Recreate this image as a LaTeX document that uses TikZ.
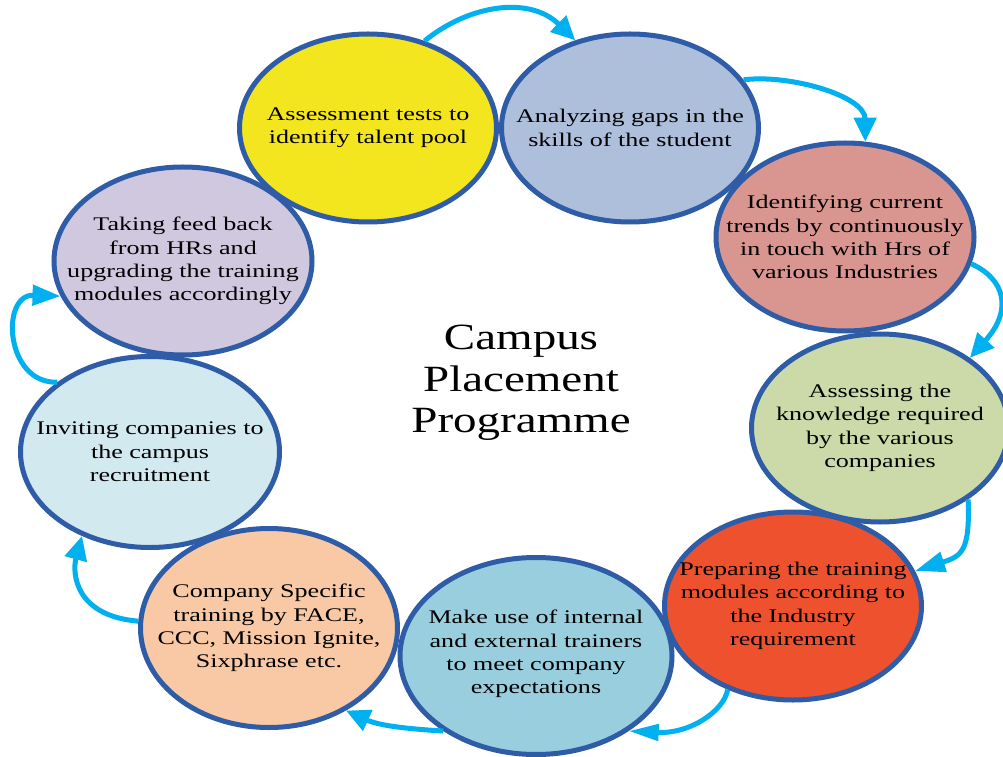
\documentclass[tikz,border=0pt]{standalone}
\usepackage{fontspec}
\setmainfont{Liberation Serif}[FakeStretch=1.35]
\newfontfamily\titlefont{Liberation Serif}[FakeStretch=1.27]
\usetikzlibrary{shapes.geometric,arrows.meta}
\definecolor{rimc}{HTML}{2E5CA6}
\definecolor{arrc}{HTML}{00B0EF}
\definecolor{cA}{HTML}{F3E61F}
\definecolor{cB}{HTML}{ADBFDA}
\definecolor{cC}{HTML}{D9958F}
\definecolor{cD}{HTML}{CCDAA9}
\definecolor{cE}{HTML}{EE512D}
\definecolor{cF}{HTML}{99CEDE}
\definecolor{cG}{HTML}{F8C9A4}
\definecolor{cH}{HTML}{D3E9F0}
\definecolor{cI}{HTML}{CFC8DF}
\begin{document}
\begin{tikzpicture}[x=1pt,y=1pt,
  bub/.style={ellipse,draw=rimc,line width=5pt,minimum width=257pt,minimum height=188pt,inner sep=0pt},
  lbl/.style={align=center,font=\fontsize{19.3}{23.3}\selectfont,inner sep=0pt},
  flow/.style={draw=arrc,line width=5pt,-{Triangle[length=24pt,width=22pt]}},
  slimtip/.style={-{Triangle[length=30pt,width=16pt]}}]
\useasboundingbox (0,0) rectangle (1003,756);
\fill[white] (0,0) rectangle (1003,756);
\node[bub,fill=cA] (e1) at (368,628) {};
\node[bub,fill=cB] (e2) at (630,628) {};
\node[bub,fill=cC,minimum width=258pt] (e3) at (845,519) {};
\node[bub,fill=cD] (e4) at (880,328) {};
\node[bub,fill=cE] (e5) at (793,150) {};
\node[bub,fill=cF,minimum width=272pt,minimum height=197pt] (e6) at (536,100) {};
\node[bub,fill=cG,minimum height=199pt] (e7) at (269,128) {};
\node[bub,fill=cH,minimum width=259pt,minimum height=191pt] (e8) at (150,304) {};
\node[bub,fill=cI,minimum width=258pt] (e9) at (183,495) {};
\node[lbl] (t1) at (e1.center) {Assessment tests to\\identify talent pool};
\node[lbl] (t2) at (e2.center) {Analyzing gaps in the\\skills of the student};
\node[lbl] (t3) at (e3.center) {Identifying current\\trends by continuously\\in touch with Hrs of\\various Industries};
\node[lbl] (t4) at (e4.center) {Assessing the\\knowledge required\\by the various\\companies};
\node[lbl] (t5) at (e5.center) {Preparing the training\\modules according to\\the Industry\\requirement};
\node[lbl] (t6) at ([yshift=2pt]e6.center) {Make use of internal\\and external trainers\\to meet company\\expectations};
\node[lbl] (t7) at (e7.center) {Company Specific\\training by FACE,\\CCC, Mission Ignite,\\Sixphrase etc.};
\node[lbl] (t8) at (e8.center) {Inviting companies to\\the campus\\recruitment};
\node[lbl] (t9) at (e9.center) {Taking feed back\\from HRs and\\upgrading the training\\modules accordingly};
\node[align=center,inner sep=0pt,font=\titlefont\fontsize{37}{41.5}\selectfont] (title) at (521,373) {Campus\\Placement\\Programme};
\draw[flow] (e1.57) .. controls (470,752) and (530,760) .. (e2.122);
\draw[flow] (e2.23) .. controls (790,682) and (865,660) .. (e3.78);
\draw[flow] (e3.348) .. controls (1005,477) and (1013,446) .. (e4.38);
\draw[flow,-{Triangle[length=30pt,width=20pt]}] (e4.321) .. controls (970,205) and (962,200) .. (e5.16);
\draw[flow,slimtip] (e5.232) .. controls (724,45) and (690,22) .. (e6.321);
\draw[flow] (e6.219) .. controls (410,27) and (380,30) .. (e7.313);
\draw[flow] (e7.177) .. controls (75,140) and (72,183) .. (e8.231);
\draw[flow,-{Triangle[length=28pt,width=20pt]}] (e8.143) .. controls (5,372) and (0,462) .. (e9.196);
\end{tikzpicture}
\end{document}
